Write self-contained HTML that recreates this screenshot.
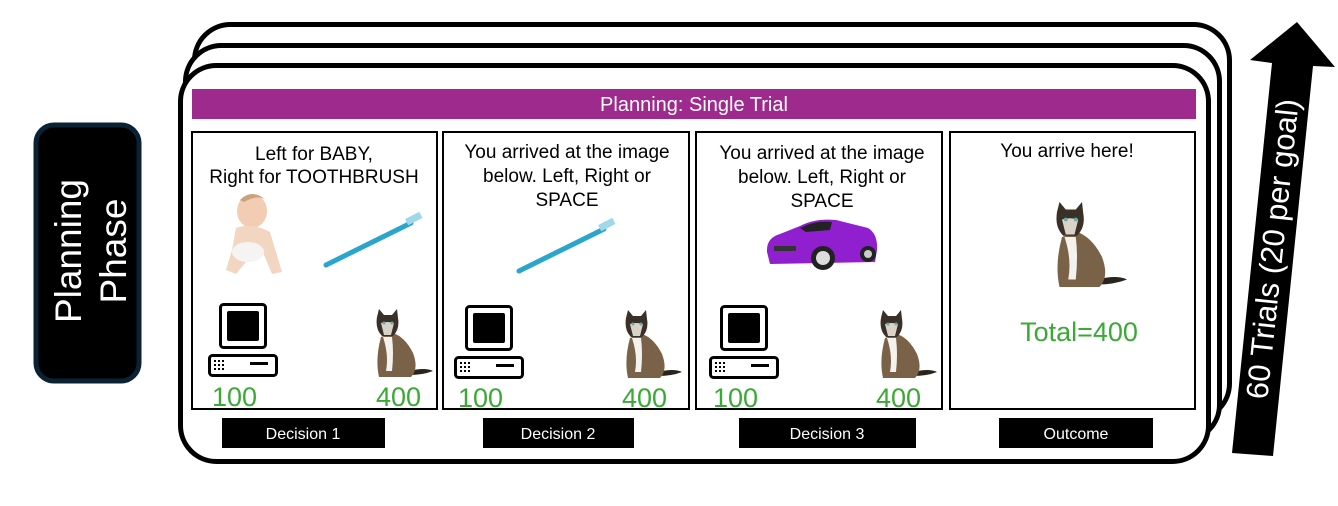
<!DOCTYPE html>
<html><head><meta charset="utf-8"><style>
html,body{margin:0;padding:0;background:#fff;}
svg{display:block;font-family:"Liberation Sans",sans-serif;}
</style></head><body>
<svg width="1338" height="506" viewBox="0 0 1338 506" xmlns="http://www.w3.org/2000/svg">
<defs>
<g id="comp">
<rect x="12.5" y="1.5" width="45" height="43" rx="3" fill="#fff" stroke="#000" stroke-width="3"/>
<rect x="19" y="8" width="32" height="30" rx="2" fill="#000"/>
<rect x="1.5" y="52.5" width="67" height="20" rx="3" fill="#fff" stroke="#000" stroke-width="3"/>
<g fill="#000"><rect x="6" y="57" width="2" height="2"/><rect x="10" y="57" width="2" height="2"/><rect x="14" y="57" width="2" height="2"/>
<rect x="6" y="61" width="2" height="2"/><rect x="10" y="61" width="2" height="2"/><rect x="14" y="61" width="2" height="2"/>
<rect x="6" y="65" width="2" height="2"/><rect x="10" y="65" width="2" height="2"/><rect x="14" y="65" width="2" height="2"/>
<rect x="42" y="59" width="18" height="3"/></g>
</g>
<g id="cat">
<path d="M36 62 Q52 58 60 62 Q50 66 36 66Z" fill="#2a241e"/>
<path d="M8 28 Q2 50 6 68 L38 68 Q46 60 40 44 Q32 28 20 24Z" fill="#7a6248"/>
<path d="M10 28 Q16 46 13 62 L19 62 Q21 44 19 28Z" fill="#f4f2ee"/>
<path d="M4 8 L6 0 L11 6 L19 6 L24 0 L25 9 Q27 20 20 27 L9 27 Q2 20 4 8Z" fill="#3a3028"/>
<path d="M8 14 Q14 12 21 14 L18 26 L11 26Z" fill="#d8d2c8"/>
<circle cx="11" cy="14" r="1.5" fill="#6aa"/><circle cx="19" cy="14" r="1.5" fill="#6aa"/>
</g>
<g id="brush">
<line x1="0" y1="50" x2="85" y2="8" stroke="#2aa6cc" stroke-width="5" stroke-linecap="round"/>
<rect x="80" y="0" width="16" height="7" fill="#9fd8ea" transform="rotate(-27 88 4)"/>
</g>
</defs>

<rect x="194.5" y="24.5" width="1035" height="395" rx="36" fill="#fff" stroke="#000" stroke-width="5"/>
<rect x="185.5" y="45.5" width="1034" height="395" rx="36" fill="#fff" stroke="#000" stroke-width="5"/>
<rect x="180.5" y="65.5" width="1028" height="396" rx="36" fill="#fff" stroke="#000" stroke-width="5"/>

<rect x="192" y="89" width="1004" height="30" fill="#9e2a8e"/>
<text x="694" y="111" font-size="20" fill="#fff" text-anchor="middle">Planning: Single Trial</text>

<g fill="none" stroke="#000" stroke-width="2">
<rect x="192" y="132" width="245" height="277"/>
<rect x="443" y="132" width="246" height="277"/>
<rect x="696" y="132" width="246" height="277"/>
<rect x="950" y="132" width="245" height="277"/>
</g>

<g font-size="19" fill="#000" text-anchor="middle">
<text x="314" y="160">Left for BABY,</text>
<text x="314" y="183">Right for TOOTHBRUSH</text>
<text x="567" y="158">You arrived at the image</text>
<text x="567" y="182">below. Left, Right or</text>
<text x="567" y="206">SPACE</text>
<text x="822" y="159">You arrived at the image</text>
<text x="822" y="183">below. Left, Right or</text>
<text x="822" y="207">SPACE</text>
<text x="1067" y="157">You arrive here!</text>
</g>

<g>
<ellipse cx="252" cy="211" rx="15" ry="17" fill="#f2cdb4"/>
<path d="M240 200 Q252 188 266 200 Q258 194 244 202Z" fill="#c9a27a"/>
<path d="M236 228 Q252 222 270 232 L282 272 L272 274 L262 250 L246 262 L236 274 L226 270 L232 250Z" fill="#f3d6c2"/>
<ellipse cx="248" cy="252" rx="16" ry="10" fill="#f6f4f2"/>
</g>
<use href="#brush" x="326" y="215"/>
<use href="#brush" x="519" y="221"/>

<g>
<path d="M767 252 Q766 238 780 234 L800 226 Q815 218 836 220 L868 228 Q878 234 877 250 L875 262 L770 264Z" fill="#8f1fcf"/>
<path d="M800 228 Q815 220 832 222 L830 230 L806 232Z" fill="#222"/>
<circle cx="823" cy="258" r="12" fill="#222"/><circle cx="823" cy="258" r="7" fill="#ddd"/>
<circle cx="868" cy="254" r="8" fill="#222"/><circle cx="868" cy="254" r="4" fill="#ccc"/>
<rect x="774" y="246" width="22" height="5" fill="#333"/>
</g>

<use href="#comp" x="208" y="303"/>
<use href="#comp" x="454" y="305"/>
<use href="#comp" x="709" y="305"/>
<use href="#cat" x="373" y="309"/>
<use href="#cat" x="622" y="310"/>
<use href="#cat" x="877" y="310"/>
<use href="#cat" x="1052" y="202" transform="translate(1052 202) scale(1.25) translate(-1052 -202)"/>

<g font-size="27" fill="#3aaa35">
<text x="212" y="406">100</text>
<text x="421" y="406" text-anchor="end">400</text>
<text x="458" y="407">100</text>
<text x="667" y="407" text-anchor="end">400</text>
<text x="713" y="407">100</text>
<text x="921" y="407" text-anchor="end">400</text>
<text x="1079" y="341" text-anchor="middle">Total=400</text>
</g>

<g fill="#000">
<rect x="222" y="418" width="163" height="30"/>
<rect x="483" y="418" width="151" height="30"/>
<rect x="739" y="418" width="177" height="30"/>
<rect x="999" y="418" width="154" height="30"/>
</g>
<g font-size="16" fill="#fff" text-anchor="middle">
<text x="303" y="439">Decision 1</text>
<text x="558" y="439">Decision 2</text>
<text x="827" y="439">Decision 3</text>
<text x="1076" y="439">Outcome</text>
</g>

<rect x="36" y="125" width="103" height="256" rx="18" fill="#000" stroke="#0a2233" stroke-width="5"/>
<g font-size="37" fill="#fff" text-anchor="middle">
<text transform="translate(81 251) rotate(-90)">Planning</text>
<text transform="translate(126 251) rotate(-90)">Phase</text>
</g>

<polygon points="1297,22 1335,67 1313,66 1273,456 1232,453 1272,63 1250,60" fill="#000"/>
<text transform="translate(1283 250) rotate(-84)" font-size="31" fill="#fff" text-anchor="middle">60 Trials (20 per goal)</text>
</svg>
</body></html>
